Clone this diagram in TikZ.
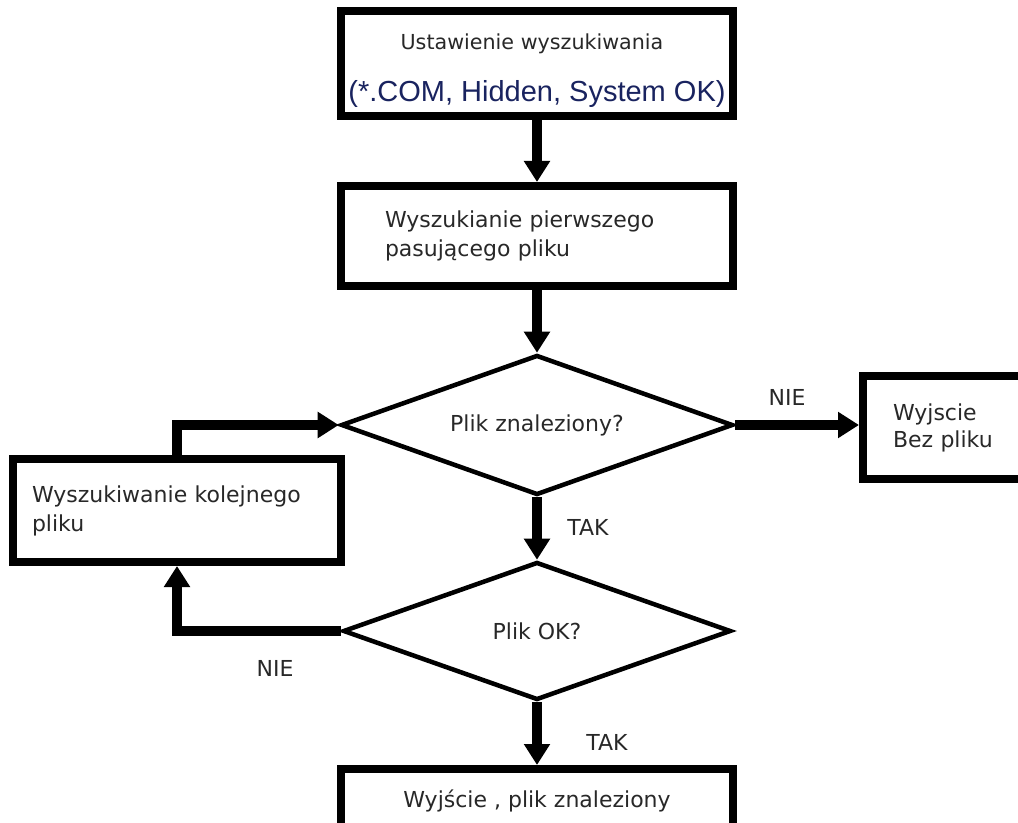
\documentclass[tikz,border=0pt]{standalone}
\usepackage{fontspec}
\setmainfont{DejaVu Sans}
\newfontfamily\arialfont{Liberation Sans}
\usetikzlibrary{shapes.geometric,arrows.meta}
\definecolor{txtgray}{RGB}{40,40,40}
\definecolor{navy}{RGB}{25,35,95}
\tikzset{
  x=0.75pt, y=-0.75pt,
  every node/.style={text=txtgray, font=\fontsize{16.5}{21.75}\selectfont},
  box/.style={draw=black, line width=6pt, rectangle, fill=white, inner sep=0pt},
  decision/.style={draw=black, line width=3.4pt, diamond, aspect=2.8, fill=white, inner sep=0pt},
  conn/.style={draw=black, line width=7pt, -{Triangle[width=18.75pt,length=15.75pt]}},
  lbl/.style={inner sep=0pt},
}
\begin{document}
\begin{tikzpicture}
\useasboundingbox[fill=white] (0,0) rectangle (1018,823);

% boxes
\node[box, minimum width=294pt, minimum height=78.75pt] (b1) at (537,63.5) {};
\node[lbl, anchor=base, font=\fontsize{15.5}{19}\selectfont] (b1a) at (532,50) {Ustawienie wyszukiwania};
\node[lbl, anchor=base, text=navy, font=\arialfont\fontsize{21.75}{26}\selectfont] (b1b) at (537,102) {(*.COM, Hidden, System OK)};

\node[box, minimum width=294pt, minimum height=75pt, text width=228pt, align=left] (b2) at (537,236)
  {Wyszukianie pierwszego\\pasującego pliku};

\node[decision, minimum width=294pt, minimum height=105pt] (d1) at (537,425) {Plik znaleziony?};

\node[box, minimum width=132.75pt, minimum height=77.25pt, text width=87.75pt, align=left,
      font=\fontsize{16.5}{20.25}\selectfont] (br) at (951.5,427.5)
  {Wyjscie\\Bez pliku};

\node[box, minimum width=246pt, minimum height=77.25pt, text width=217.5pt, align=left] (bl) at (177,510.5)
  {Wyszukiwanie kolejnego\\pliku};

\node[decision, minimum width=291pt, minimum height=103.5pt] (d2) at (537,631) {Plik OK?};

\node[box, minimum width=294pt, minimum height=47.25pt] (b5) at (537,800.5) {Wyjście , plik znaleziony};

% connectors
\draw[conn] (b1.south) -- (b2.north);
\draw[conn] (b2.south) -- (d1.north);
\draw[conn] (d1.east) -- (d1.east -| br.west);
\draw[conn] (d1.south) -- (d2.north);
\draw[conn] (d2.south) -- (b5.north);
\draw[conn] (d2.west) -| (bl.south);
\draw[conn] (bl.north) |- (d1.west);

% labels
\node[lbl] (nie1) at (787,397) {NIE};
\node[lbl] (tak1) at (588,527) {TAK};
\node[lbl] (nie2) at (275,668) {NIE};
\node[lbl] (tak2) at (607,742) {TAK};
\end{tikzpicture}
\end{document}
